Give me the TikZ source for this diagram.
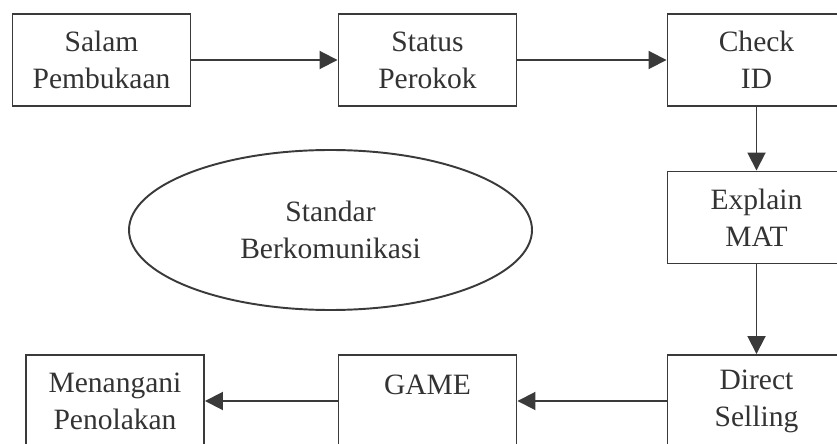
\documentclass[tikz,border=0pt]{standalone}
\usepackage{fontspec}
\setmainfont{Liberation Serif}
\usetikzlibrary{arrows.meta,shapes.geometric}
\definecolor{garis}{HTML}{3A3A3A}
\definecolor{teks}{HTML}{333333}

\begin{document}
\begin{tikzpicture}[
  font=\fontsize{16.8}{21}\selectfont,
  langkah/.style={draw=garis, line width=1.1pt, text=teks, minimum width=3.56cm, minimum height=1.84cm, align=center, inner sep=0pt},
  bulat/.style={ellipse, draw=garis, line width=1.1pt, text=teks, minimum width=8.06cm, minimum height=3.2cm, align=center, inner sep=0pt},
  panah/.style={draw=garis, line width=1.1pt, -{Triangle[length=0.36cm,width=0.36cm]}}
]
\useasboundingbox (0,0) rectangle (16.74,8.86);
\clip (0,0) rectangle (16.74,8.86);
\node[langkah] (salam) at (2.03,7.66) {Salam\\Pembukaan};
\node[langkah] (status) at (8.55,7.66) {Status\\Perokok};
\node[langkah] (check) at (15.13,7.66) {Check\\ID};
\node[langkah] (explain) at (15.13,4.51) {Explain\\MAT};
\node[langkah] (direct) at (15.13,0.84) {Direct\\Selling};
\node[langkah, text depth=0.66cm] (game) at (8.55,0.84) {GAME};
\node[langkah] (menangani) at (2.30,0.84) {Menangani\\Penolakan};
\node[bulat] (standar) at (6.61,4.26) {Standar\\Berkomunikasi};
\draw[panah] (salam) -- (status);
\draw[panah] (status) -- (check);
\draw[panah] (check) -- (explain);
\draw[panah] (explain) -- (direct);
\draw[panah] (direct) -- (game);
\draw[panah] (game) -- (menangani);
\end{tikzpicture}
\end{document}
